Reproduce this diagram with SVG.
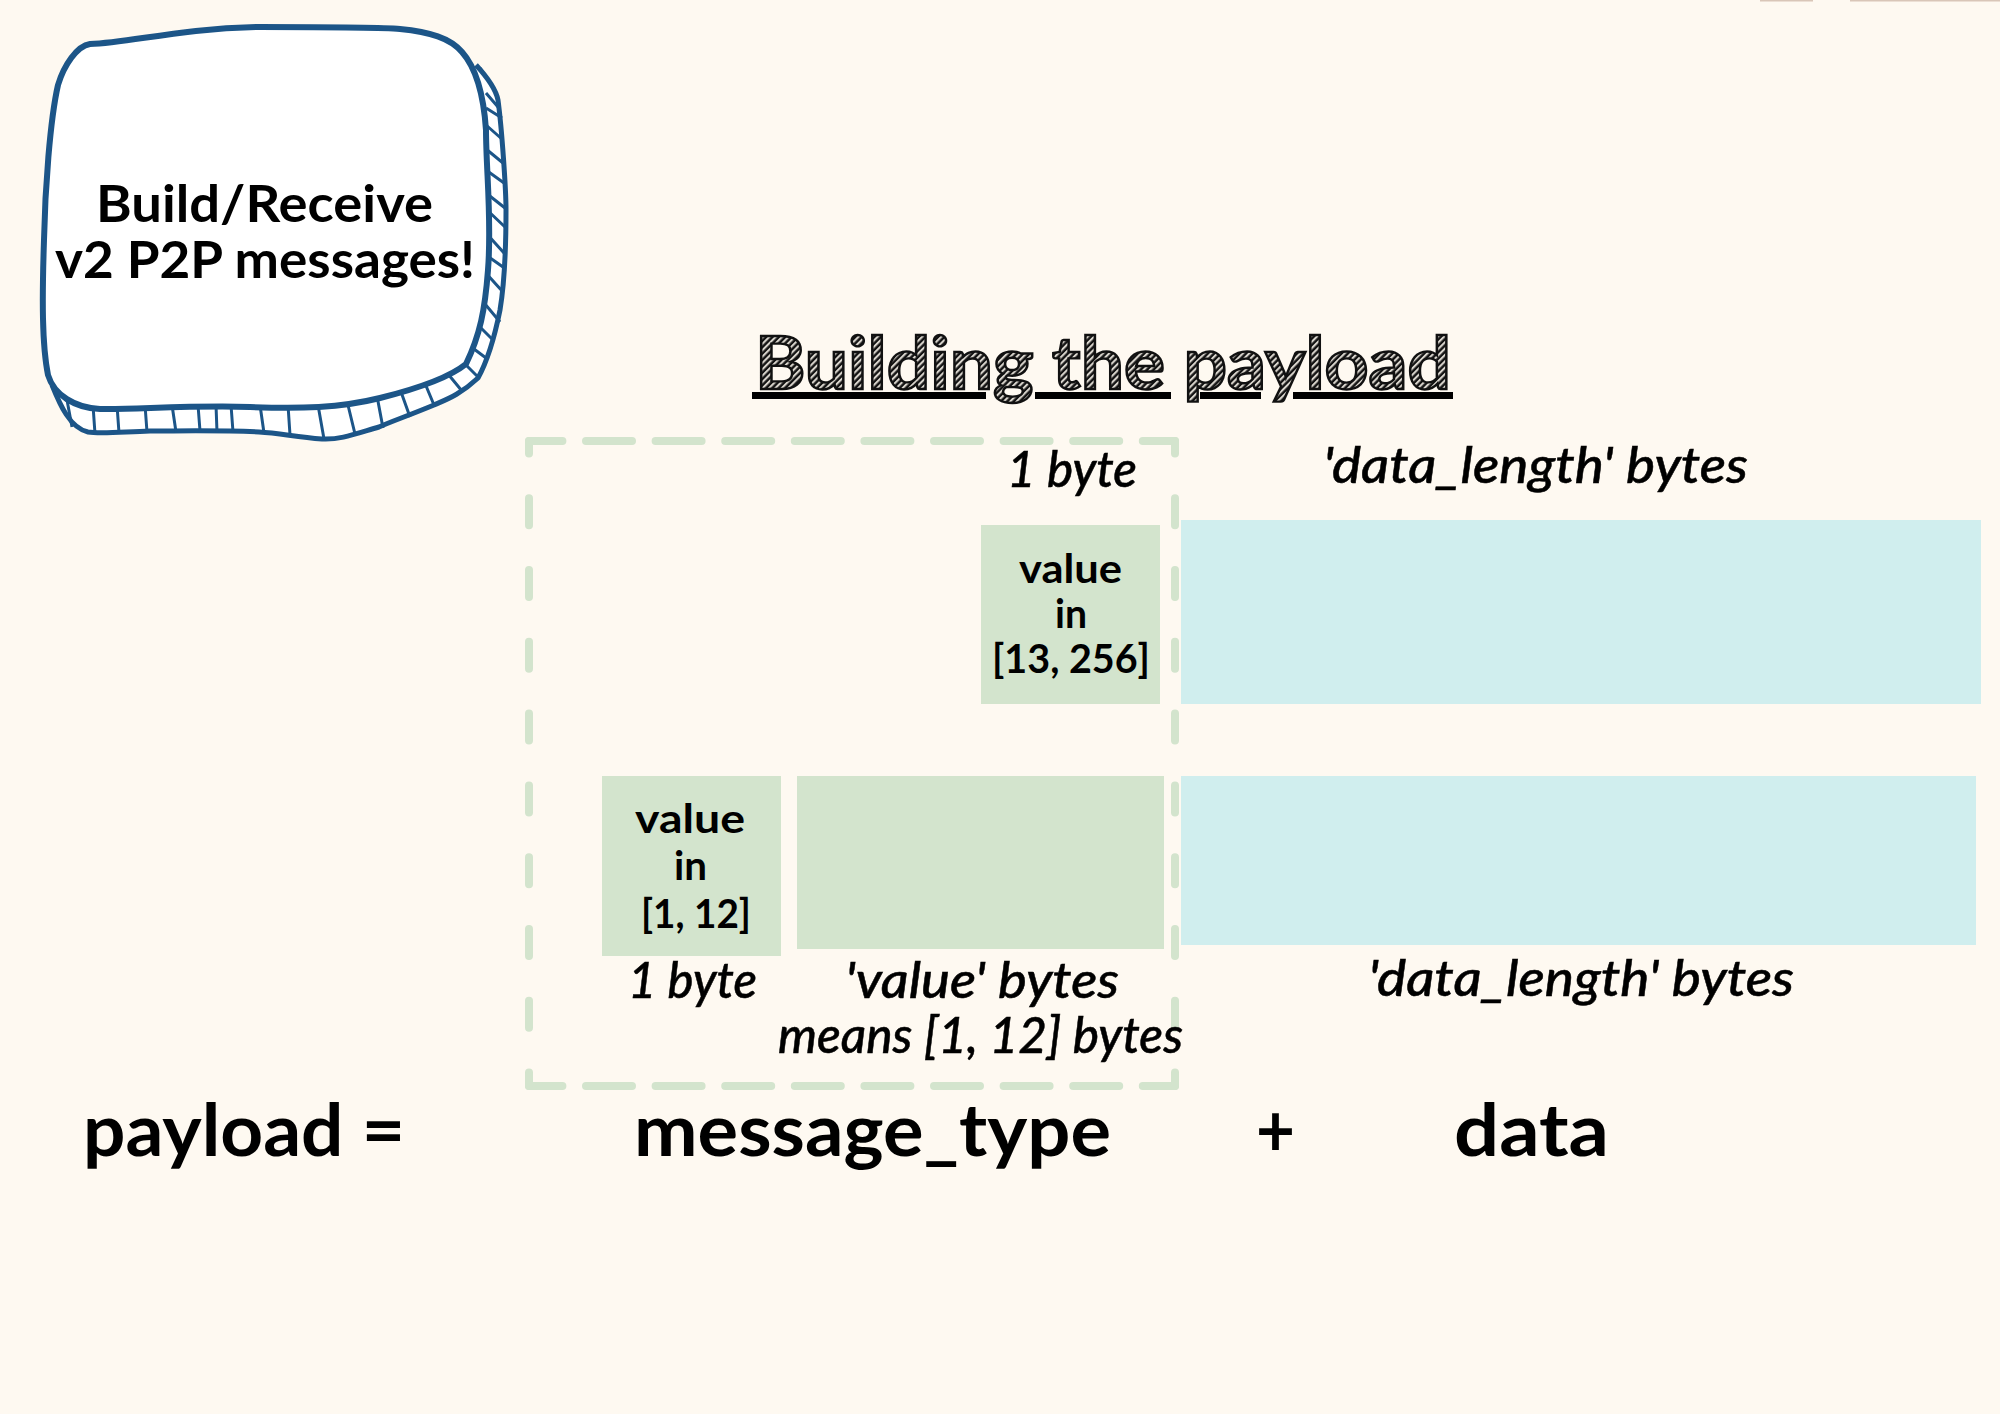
<svg xmlns="http://www.w3.org/2000/svg" width="2000" height="1414" viewBox="0 0 2000 1414">
<style>
text{font-family:"Lato","Liberation Sans",sans-serif;fill:#000}
.i{font-style:italic;font-size:50px;font-weight:500;stroke:#000;stroke-width:.5}
.v{font-weight:700;font-size:41px}
.big{font-weight:700;font-size:72px}
.hd{font-weight:700;font-size:51px}
.g{fill:#d3e4cd}
.c{fill:#d0eeee}
.dash{fill:none;stroke:#d3e4cd;stroke-width:8;stroke-linecap:round}
.h{stroke-dasharray:46 23.6;stroke-dashoffset:12.6}
.u{stroke-dasharray:27 44.8;stroke-dashoffset:14.6}
.blob{stroke:#1c5588;fill:#fff;stroke-linejoin:round}
.hatch{stroke:#1c5588;stroke-width:3;fill:none}
</style>
<defs>
<pattern id="scribble" width="4.5" height="4.5" patternUnits="userSpaceOnUse" patternTransform="rotate(-45)">
<rect width="4.5" height="4.5" fill="#d8d4cc"/>
<line x1="0" y1="1.5" x2="4.5" y2="1.5" stroke="#111" stroke-width="2.4"/>
</pattern>
</defs>
<rect width="2000" height="1414" fill="#fef9f1"/>
<rect x="1760" y="0" width="53" height="1.5" fill="#d9c6b8"/>
<rect x="1850" y="0" width="150" height="1.5" fill="#d9c6b8"/>

<g id="badge">
<path class="blob" stroke-width="5" d="M476 65 C488 78 496 90 498 100 C502 130 506 190 506 210 C506 250 505 280 500 310 C494 340 488 360 478 378 C460 395 445 400 434 405 C410 415 390 422 379 427 C355 434 340 440 322 439 C295 437 280 433 259 432 C220 430 180 431 150 431 C120 432 100 434 88 432 C70 428 60 405 52 385"/>
<path class="hatch" d="M480 68L495 90M486 93L498 107M486 108L502 118M486 125L503 140M486 149L503 163M486 170L504 183M486 193L505 208M486 209L505 227M486 233L504 253M486 255L503 267M484 271L503 292M480 298L500 322M476 323L493 340M470 346L486 358M462 361L478 377M448 374L462 391M424 381L434 405M400 389L410 417M377 396L383 428M347 401L355 434M318 405L324 439M288 405L290 435M260 405L264 433M231 405L233 432M216 405L217 432M198 405L200 431M172 405L176 432M145 405L147 432M117 405L119 433M93 405L95 434M67 400L72 427"/>
<path class="blob" stroke-width="6" d="M90 44 C130 43 180 28 260 27 C320 27 380 27 400 29 C430 32 450 38 462 52 C478 70 484 100 486 130 C486 170 492 220 488 270 C485 310 480 335 466 364 C450 377 420 388 380 398 C340 408 300 409 250 407 C190 405 130 410 100 409 C75 408 54 395 48 375 C42 345 42 300 44 240 C45 190 50 120 58 85 C64 65 77 46 90 44 Z"/>
<text class="hd" x="96" y="222" textLength="337" lengthAdjust="spacingAndGlyphs">Build/Receive</text>
<text class="hd" x="55" y="278" textLength="420" lengthAdjust="spacingAndGlyphs">v2 P2P messages!</text>
</g>

<g id="title">
<g fill="#000">
<rect x="752" y="392" width="234" height="7"/>
<rect x="1035" y="392" width="136" height="7"/>
<rect x="1200" y="392" width="61" height="7"/>
<rect x="1293" y="392" width="160" height="7"/>
</g>
<text x="755" y="389" font-size="73" font-weight="700" textLength="696" lengthAdjust="spacingAndGlyphs" style="fill:url(#scribble);stroke:#111;stroke-width:2.4;paint-order:normal">Building the payload</text>
</g>

<g id="message-type-frame">
<line class="dash h" x1="529" y1="441" x2="1175" y2="441"/>
<line class="dash h" x1="529" y1="1086" x2="1175" y2="1086"/>
<line class="dash u" x1="529" y1="441" x2="529" y2="1086"/>
<line class="dash u" x1="1175" y1="441" x2="1175" y2="1086"/>
</g>

<g id="type-long">
<rect class="g" x="981" y="525" width="179" height="179"/>
<text class="v" x="1019" y="583" textLength="103" lengthAdjust="spacingAndGlyphs">value</text>
<text class="v" x="1055" y="628" textLength="32" lengthAdjust="spacingAndGlyphs">in</text>
<text class="v" x="992" y="673" textLength="158" lengthAdjust="spacingAndGlyphs">[13, 256]</text>
<text class="i" x="1007" y="487" textLength="130" lengthAdjust="spacingAndGlyphs">1 byte</text>
</g>

<g id="data-long">
<rect class="c" x="1181" y="520" width="800" height="184"/>
<text class="i" x="1323" y="483" textLength="425" lengthAdjust="spacingAndGlyphs">'data_length' bytes</text>
</g>

<g id="type-short">
<rect class="g" x="602" y="776" width="179" height="180"/>
<text class="v" x="635" y="833" textLength="110" lengthAdjust="spacingAndGlyphs">value</text>
<text class="v" x="674" y="880" textLength="33" lengthAdjust="spacingAndGlyphs">in</text>
<text class="v" x="641" y="928" textLength="110" lengthAdjust="spacingAndGlyphs">[1, 12]</text>
<text class="i" x="628" y="998" textLength="129" lengthAdjust="spacingAndGlyphs">1 byte</text>
</g>

<g id="value-bytes">
<rect class="g" x="797" y="776" width="367" height="173"/>
<text class="i" x="845" y="998" textLength="274" lengthAdjust="spacingAndGlyphs">'value' bytes</text>
<text class="i" x="778" y="1053" textLength="405" lengthAdjust="spacingAndGlyphs">means [1, 12] bytes</text>
</g>

<g id="data-short">
<rect class="c" x="1181" y="776" width="795" height="169"/>
<text class="i" x="1368" y="996" textLength="426" lengthAdjust="spacingAndGlyphs">'data_length' bytes</text>
</g>

<g id="formula">
<text class="big" x="83" y="1156" textLength="322" lengthAdjust="spacingAndGlyphs">payload =</text>
<text class="big" x="634" y="1156" textLength="477" lengthAdjust="spacingAndGlyphs">message_type</text>
<text class="big" x="1256" y="1156" textLength="39" lengthAdjust="spacingAndGlyphs">+</text>
<text class="big" x="1454" y="1156" textLength="155" lengthAdjust="spacingAndGlyphs">data</text>
</g>
</svg>
